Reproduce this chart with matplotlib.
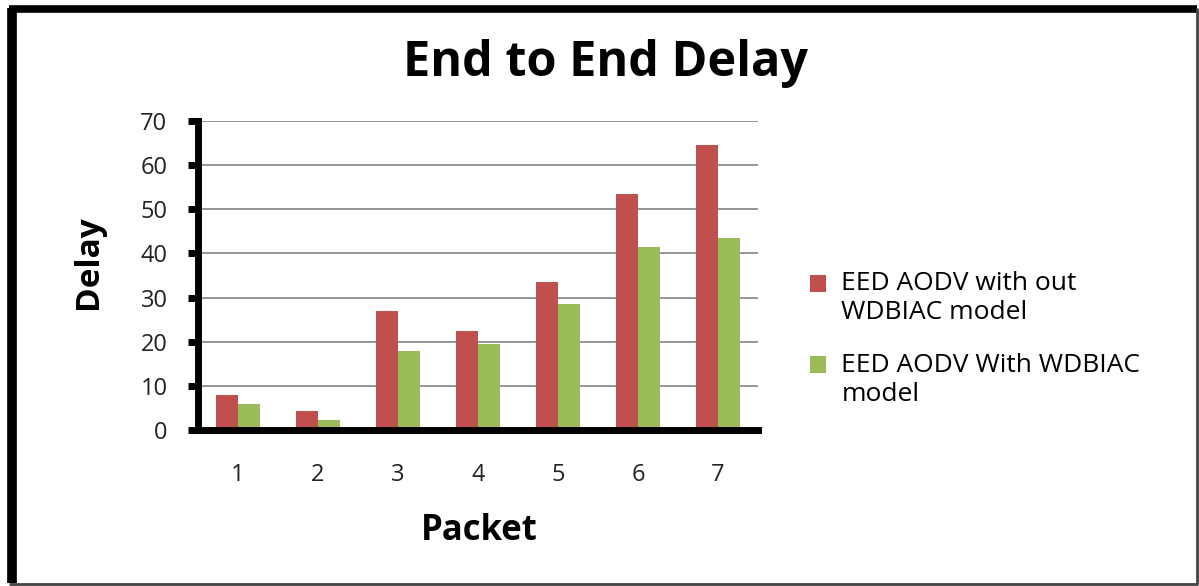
import matplotlib
matplotlib.use("Agg")
import matplotlib.pyplot as plt
import numpy as np
from matplotlib.lines import Line2D

packets = ["1", "2", "3", "4", "5", "6", "7"]
without_wdbiac = [8.0, 4.4, 27.0, 22.4, 33.5, 53.4, 64.5]
with_wdbiac = [5.9, 2.3, 17.9, 19.4, 28.6, 41.4, 43.4]
series_labels = ["EED AODV with out\nWDBIAC model", "EED AODV With WDBIAC\nmodel"]
yticks = [0, 10, 20, 30, 40, 50, 60, 70]

plt.rcParams['font.family'] = ['Open Sans', 'DejaVu Sans']

W, H = 1199, 586
fig = plt.figure(figsize=(W / 100, H / 100), dpi=100)
ax = fig.add_axes([198 / W, 1 - 430 / H, (758 - 198) / W, (430 - 121) / H])

x = np.arange(len(packets))
bw = 0.275
ax.bar(x - bw / 2, without_wdbiac, bw, color="#C0504D", label=series_labels[0], zorder=3)
ax.bar(x + bw / 2, with_wdbiac, bw, color="#9BBB59", label=series_labels[1], zorder=3)

ax.set_xlim(-0.5, len(packets) - 0.5)
ax.set_ylim(0, 70)
ax.set_yticks(yticks)
ax.set_xticks(x)
ax.set_xticklabels(packets)
ax.yaxis.grid(True, color="#8c8c8c", linewidth=1.3, zorder=0)
ax.set_axisbelow(True)

for s in ["top", "right"]:
    ax.spines[s].set_visible(False)
for s in ["left", "bottom"]:
    ax.spines[s].set_linewidth(5)
    ax.spines[s].set_color("black")
    ax.spines[s].set_zorder(5)

ax.tick_params(axis="y", length=7, width=5, direction="out", labelsize=17, colors="black",
               labelcolor="#222222", pad=15)
ax.tick_params(axis="x", length=0, labelsize=17, labelcolor="#222222", pad=24)

fig.text(479 / W, 1 - 531 / H, "Packet", fontsize=25, fontweight="bold",
         ha="center", va="center")
fig.text(88 / W, 1 - 262 / H, "Delay", fontsize=24, fontweight="bold",
         ha="center", va="center", rotation=90)

fig.text(606 / W, 1 - 64 / H, "End to End Delay", fontsize=35, fontweight="bold",
         ha="center", va="center")

leg = fig.legend(loc="center left", bbox_to_anchor=(786 / W, 1 - 339 / H), frameon=False,
                 fontsize=19, handlelength=0.6, handleheight=0.6, handletextpad=0.6,
                 labelspacing=1.05)
# align each colour square with the first line of its two-line label
for h in leg.legend_handles:
    h.set_y(h.get_y() + 11)

# frame around the whole chart
fig.add_artist(Line2D([12 / W, 12 / W], [1 - 8 / H, 1 - 583 / H], transform=fig.transFigure,
                      color="black", linewidth=7, solid_capstyle="butt"))
fig.add_artist(Line2D([9 / W, 1197 / W], [1 - 8.5 / H, 1 - 8.5 / H], transform=fig.transFigure,
                      color="black", linewidth=5.5, solid_capstyle="butt"))
fig.add_artist(Line2D([1197 / W, 1197 / W], [1 - 8 / H, 1 - 584 / H], transform=fig.transFigure,
                      color="#444444", linewidth=2, solid_capstyle="butt"))
fig.add_artist(Line2D([9 / W, 1198 / W], [1 - 583.5 / H, 1 - 583.5 / H], transform=fig.transFigure,
                      color="#444444", linewidth=2, solid_capstyle="butt"))

fig.savefig("out.png", dpi=100)
